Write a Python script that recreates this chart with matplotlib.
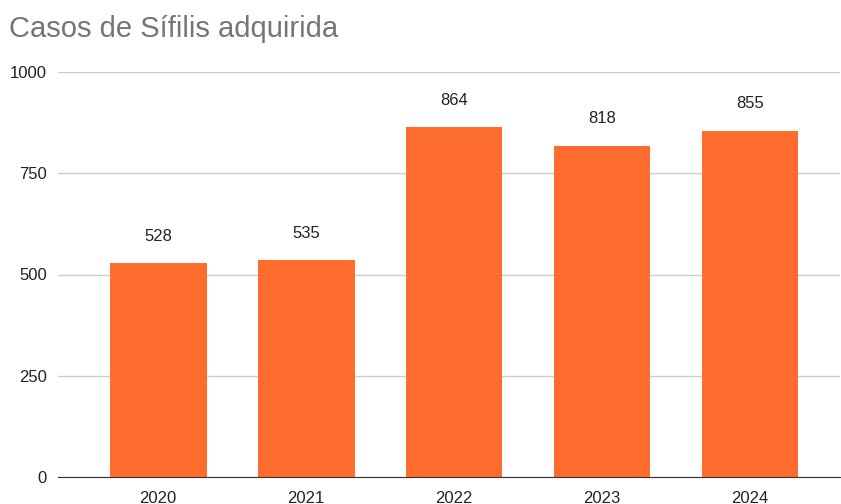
import matplotlib.pyplot as plt
import numpy as np

plt.rcParams['font.family'] = ['Liberation Sans', 'DejaVu Sans']

# data
anos = ['2020', '2021', '2022', '2023', '2024']
casos = [528, 535, 864, 818, 855]

fig = plt.figure(figsize=(8.41, 5.04), dpi=100)
ax = fig.add_axes([58 / 841, 1 - 477 / 504, 782 / 841, 405 / 504])

x = np.arange(len(anos))
ax.bar(x, casos, width=0.655, color='#ff6d2e', zorder=2)

for xi, v in zip(x, casos):
    ax.annotate(str(v), (xi, v), xytext=(0, 14), textcoords='offset points',
                ha='center', va='bottom', fontsize=12, color='#222222')

ax.set_ylim(0, 1000)
ax.set_xlim(-0.676, 4.608)
ax.set_yticks([0, 250, 500, 750, 1000])
ax.set_xticks(x, labels=anos)
ax.grid(axis='y', color='#cccccc', linewidth=1, zorder=0)
for s in ['top', 'right', 'left']:
    ax.spines[s].set_visible(False)
ax.spines['bottom'].set_color('#333333')
ax.spines['bottom'].set_zorder(3)
ax.tick_params(length=0, labelsize=12, labelcolor='#222222')
ax.tick_params(axis='y', pad=8)
ax.tick_params(axis='x', pad=10)

fig.text(9 / 841, 1 - 37 / 504, 'Casos de Sífilis adquirida', fontsize=21,
         color='#757575', ha='left', va='baseline')

fig.savefig('out.png', dpi=100)
